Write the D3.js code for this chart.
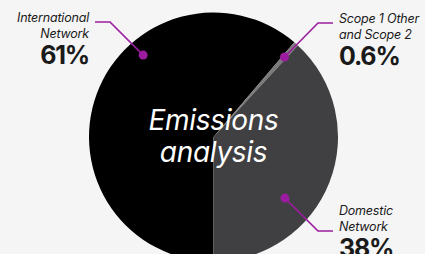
<!DOCTYPE html>
<html>
<head>
<meta charset="utf-8">
<script src="https://cdn.jsdelivr.net/npm/d3@7"></script>
<style>
  html, body { margin: 0; padding: 0; background: #f5f5f5; }
  svg { display: block; font-family: Inter, "Noto Sans", sans-serif; }
</style>
</head>
<body>
<div id="container"></div>
<script>
const categories = ['International Network', 'Scope 1 Other and Scope 2', 'Domestic Network'];
const shares = [61, 0.6, 38];
const shareLabels = ['61%', '0.6%', '38%'];
const labelLines = [['International', 'Network'], ['Scope 1 Other', 'and Scope 2'], ['Domestic', 'Network']];
const sliceColors = ['#000000', '#7a7a7a', '#404042'];

const w = 425;
const h = 254;
const cx = 213.5;
const cy = 137;
const radius = 124.5;
const accent = '#9c1c9f';

const svg = d3
  .select('#container')
  .append('svg')
  .attr('width', w)
  .attr('height', h);

svg.append('rect').attr('width', w).attr('height', h).attr('fill', '#f5f5f5');

const pie = d3
  .pie()
  .sort(null)
  .startAngle(Math.PI)
  .endAngle(3 * Math.PI)
  .value(d => d);

const arcs = pie(shares);
const arc = d3.arc().innerRadius(0).outerRadius(radius);

const g = svg.append('g').attr('transform', `translate(${cx},${cy})`);

g.selectAll('path')
  .data(arcs)
  .enter()
  .append('path')
  .attr('d', arc)
  .attr('fill', (d, i) => sliceColors[i]);

// centre title
g.append('text')
  .attr('text-anchor', 'middle')
  .attr('fill', '#fff')
  .style('font-style', 'italic')
  .style('font-size', '28px')
  .style('letter-spacing', '-0.3px')
  .selectAll('tspan')
  .data(['Emissions', 'analysis'])
  .enter()
  .append('tspan')
  .attr('x', 0)
  .attr('y', (d, i) => -7 + i * 32)
  .text(d => d);

// callouts: dot on the slice, elbow line, label block
const dotPos = [0.632, 0.5, 0.64];   // fraction along each slice's arc
const dotRadius = [108, 107, 94];
const callouts = [
  { elbow: [110, 22], end: [95, 22], anchor: 'end', tx: 89, ty: 22 },
  { elbow: [318, 23], end: [333, 23], anchor: 'start', tx: 339, ty: 23 },
  { elbow: [318, 231], end: [333, 231], anchor: 'start', tx: 339, ty: 215 }
];

callouts.forEach((c, i) => {
  const s = arcs[i];
  const a = s.startAngle + dotPos[i] * (s.endAngle - s.startAngle);
  const dx = cx + Math.sin(a) * dotRadius[i];
  const dy = cy - Math.cos(a) * dotRadius[i];
  svg.append('polyline')
    .attr('points', [[dx, dy], c.elbow, c.end].map(p => p.join(',')).join(' '))
    .attr('fill', 'none')
    .attr('stroke', accent)
    .attr('stroke-width', 1.6);
  svg.append('circle')
    .attr('cx', dx)
    .attr('cy', dy)
    .attr('r', 4.5)
    .attr('fill', accent);

  const t = svg.append('text')
    .attr('text-anchor', c.anchor)
    .attr('fill', '#1a1a1a');
  labelLines[i].forEach((line, j) => {
    t.append('tspan')
      .attr('x', c.tx)
      .attr('y', c.ty + j * 16)
      .style('font-style', 'italic')
      .style('font-size', '12.5px')
      .style('letter-spacing', '-0.2px')
      .text(line);
  });
  t.append('tspan')
    .attr('x', c.tx)
    .attr('y', c.ty + 42)
    .style('font-weight', 700)
    .style('font-size', '25px')
    .style('letter-spacing', '-1.2px')
    .text(shareLabels[i]);
});
</script>
</body>
</html>
